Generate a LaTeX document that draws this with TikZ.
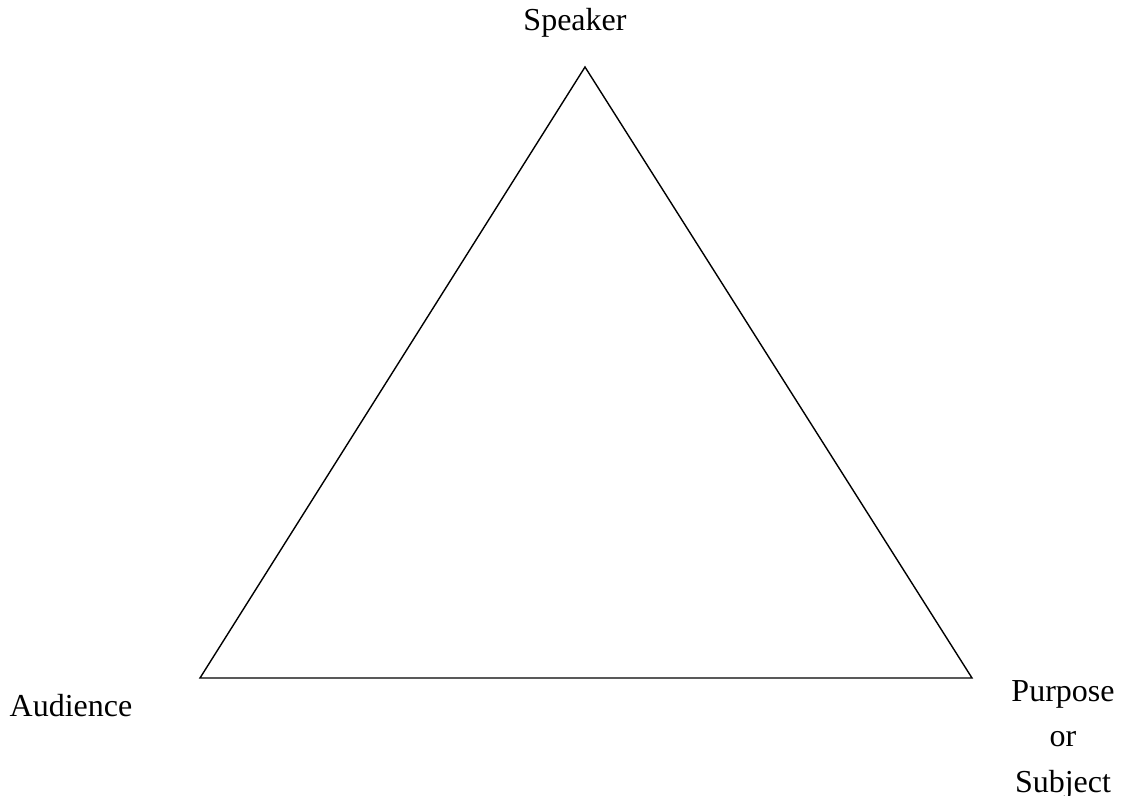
\documentclass[tikz,border=0pt]{standalone}
\usepackage{fontspec}
\setmainfont{Liberation Serif}
\begin{document}
\begin{tikzpicture}[x=1pt,y=-1pt,
  lab/.style={inner sep=0pt,font=\fontsize{32}{41}\selectfont,align=center}]
\useasboundingbox (0,0) rectangle (1123,795);
\coordinate (S) at (585,67);
\coordinate (A) at (200,678);
\coordinate (P) at (972,678);
\draw[line width=1.4pt,line join=miter] (S) -- (A) -- (P) -- cycle;
\node[lab,anchor=base] (ts) at (575,30) {Speaker};
\node[lab,anchor=base] (ta) at (71,716) {Audience};
\node[lab,anchor=base] (tp1) at (1063,701) {Purpose};
\node[lab,anchor=base] (tp2) at (1063,746) {or};
\node[lab,anchor=base] (tp3) at (1063,792) {Subject};
\end{tikzpicture}
\end{document}
